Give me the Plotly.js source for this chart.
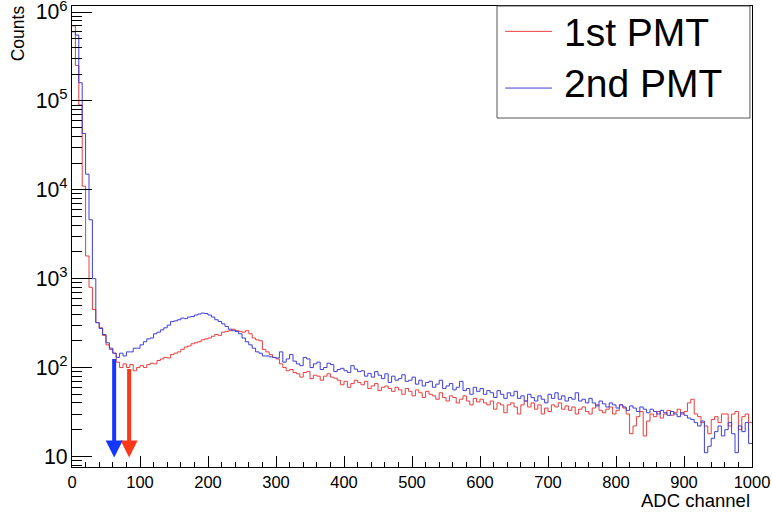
<!DOCTYPE html>
<html>
<head>
<meta charset="utf-8">
<script src="https://cdn.plot.ly/plotly-3.0.1.min.js"></script>
<style>
html,body{margin:0;padding:0;background:#fff;}
#chart{width:772px;height:512px;}
</style>
</head>
<body>
<div id="chart"></div>
<script>
// ADC histogram, 200 bins of 5 channels from 0 to 1000
const binStart = 0;
const binWidth = 5;
const seriesNames = ["1st PMT", "2nd PMT"];

const pmt1Counts = [
  700000, 250000, 90000, 11000, 1800, 800, 450, 320, 280, 230,
  180, 160, 145, 115, 100, 110, 100, 108, 92, 100,
  105, 100, 108, 112, 110, 120, 125, 130, 128, 140,
  145, 150, 160, 170, 175, 185, 190, 195, 205, 210,
  215, 225, 235, 230, 250, 255, 260, 270, 260, 255,
  250, 260, 240, 215, 205, 200, 160, 150, 140, 130,
  125, 110, 100, 92, 95, 88, 85, 78, 88, 90,
  75, 82, 80, 72, 80, 85, 78, 76, 72, 64,
  70, 60, 66, 72, 68, 64, 70, 58, 62, 66,
  55, 60, 62, 58, 54, 60, 56, 50, 58, 54,
  48, 56, 52, 46, 54, 50, 48, 44, 52, 46,
  42, 48, 46, 40, 44, 48, 42, 38, 45, 41,
  44, 40, 38, 42, 34, 40, 38, 31, 38, 40,
  36, 30, 38, 42, 36, 40, 34, 38, 30, 35,
  32, 38, 36, 40, 34, 37, 33, 36, 30, 34,
  36, 32, 30, 35, 38, 33, 31, 34, 36, 30,
  33, 38, 35, 30, 18, 22, 28, 32, 17, 25,
  30, 28, 32, 27, 30, 33, 29, 31, 34, 30,
  32, 40, 44, 30, 28, 24, 22, 18, 26, 28,
  24, 30, 30, 22, 30, 32, 20, 28, 30, 24
];

const pmt2Counts = [
  600000, 550000, 160000, 43000, 15000, 4600, 1000, 320, 275, 235,
  190, 165, 145, 130, 145, 135, 150, 150, 165, 165,
  180, 195, 210, 215, 240, 250, 265, 280, 300, 330,
  335, 345, 360, 355, 370, 375, 390, 400, 410, 405,
  390, 370, 345, 330, 310, 290, 270, 260, 255, 240,
  215, 195, 180, 165, 150, 145, 135, 135, 132, 130,
  128, 150, 115, 125, 140, 118, 110, 105, 130, 125,
  100, 110, 115, 95, 100, 112, 108, 90, 95, 98,
  92, 88, 105, 96, 90, 92, 80, 86, 78, 90,
  82, 75, 85, 68, 80, 72, 75, 83, 70, 72,
  78, 65, 72, 62, 68, 70, 60, 65, 72, 58,
  62, 66, 56, 60, 70, 55, 58, 50, 60, 54,
  58, 50, 55, 52, 46, 55, 50, 45, 52, 48,
  54, 45, 48, 42, 50, 46, 42, 48, 44, 40,
  50, 45, 52, 44, 48, 42, 46, 44, 52, 42,
  44, 40, 45, 40, 37, 42, 39, 36, 40, 38,
  35, 38, 36, 33, 37, 35, 32, 36, 34, 31,
  34, 32, 30, 33, 31, 29, 32, 30, 28, 31,
  29, 27, 26, 24, 22, 25, 11, 13, 16, 19,
  22, 17, 20, 24, 18, 11, 22, 19, 24, 14
];

// threshold markers: [1st PMT, 2nd PMT]
const cutChannel = [84, 62];
const cutCounts = [100, 130];

const lineColors = ["rgb(232,62,62)", "rgb(62,62,215)"];
const arrowColors = ["rgb(255,55,25)", "rgb(20,55,255)"];

function stepXY(counts) {
  const xs = [], ys = [];
  for (let i = 0; i < counts.length; i++) {
    xs.push(binStart + i * binWidth);
    ys.push(counts[i]);
  }
  xs.push(binStart + counts.length * binWidth);
  ys.push(counts[counts.length - 1]);
  return {xs, ys};
}

const allSeries = [pmt1Counts, pmt2Counts];
const traces = allSeries.map((c, k) => {
  const s = stepXY(c);
  return {
    type: "scatter", mode: "lines",
    x: s.xs, y: s.ys,
    name: seriesNames[k], showlegend: false,
    line: {shape: "hv", color: lineColors[k], width: 1, simplify: false}
  };
});

const FONT = "Liberation Sans, Arial, Helvetica, sans-serif";
const yBottom = 7.6, yTop = 1.17e6;

const annotations = cutChannel.map((cx, k) => ({
  x: cx, y: Math.log10(9.7), xref: "x", yref: "y",
  ax: cx, ay: Math.log10(cutCounts[k]), axref: "x", ayref: "y",
  showarrow: true, arrowhead: 2, arrowsize: 0.85, arrowwidth: 4,
  arrowcolor: arrowColors[k], text: "", standoff: 0, startstandoff: 0
}));

annotations.push({
  text: "ADC channel", xref: "paper", yref: "paper",
  x: 1.0, xanchor: "right", y: -0.046, yanchor: "top",
  showarrow: false, font: {family: FONT, size: 18.5, color: "#000"}
});
annotations.push({
  text: "Counts", xref: "paper", yref: "paper",
  x: -0.08, xanchor: "center", y: 1.005, yanchor: "top",
  textangle: -90, showarrow: false,
  font: {family: FONT, size: 17.5, color: "#000"}
});

// legend box (drawn in paper coordinates)
const legX0 = 0.625, legX1 = 0.997, legY0 = 0.757, legY1 = 1.0;
const legRowY = [0.945, 0.822];     // line sample rows
const legTextY = [0.942, 0.831];    // text rows
const shapes = [{
  type: "rect", xref: "paper", yref: "paper",
  x0: legX0, x1: legX1, y0: legY0, y1: legY1,
  line: {color: "#555", width: 1}, fillcolor: "#fff", layer: "above"
}];
seriesNames.forEach((nm, k) => {
  shapes.push({
    type: "line", xref: "paper", yref: "paper",
    x0: 0.637, x1: 0.706, y0: legRowY[k], y1: legRowY[k],
    line: {color: lineColors[k], width: 1}, layer: "above"
  });
  annotations.push({
    text: nm, xref: "paper", yref: "paper",
    x: 0.72, xanchor: "left", y: legTextY[k], yanchor: "middle",
    showarrow: false, font: {family: FONT, size: 39, color: "#000"}
  });
});

const layout = {
  width: 772, height: 512,
  margin: {l: 72, r: 20, t: 6, b: 45},
  paper_bgcolor: "#fff", plot_bgcolor: "#fff",
  font: {family: FONT, color: "#000"},
  showlegend: false,
  xaxis: {
    range: [0, 1000], dtick: 100, tick0: 0,
    showgrid: false, zeroline: false,
    showline: true, linecolor: "#000", linewidth: 1, mirror: true,
    ticks: "inside", ticklen: 11, tickcolor: "#000", tickwidth: 1,
    minor: {dtick: 20, ticks: "inside", ticklen: 5, tickcolor: "#000", showgrid: false},
    tickfont: {family: FONT, size: 16.5, color: "#000"}
  },
  yaxis: {
    type: "log", range: [Math.log10(yBottom), Math.log10(yTop)],
    dtick: 1, exponentformat: "power", ticklabeloverflow: "allow",
    showgrid: false, zeroline: false,
    showline: true, linecolor: "#000", linewidth: 1, mirror: true,
    ticks: "inside", ticklen: 20, tickcolor: "#000", tickwidth: 1,
    minor: {dtick: "D1", ticks: "inside", ticklen: 10, tickcolor: "#000", showgrid: false},
    tickfont: {family: FONT, size: 17, color: "#000"}
  },
  shapes: shapes,
  annotations: annotations
};

Plotly.newPlot("chart", traces, layout, {staticPlot: true, displayModeBar: false});
</script>
</body>
</html>
